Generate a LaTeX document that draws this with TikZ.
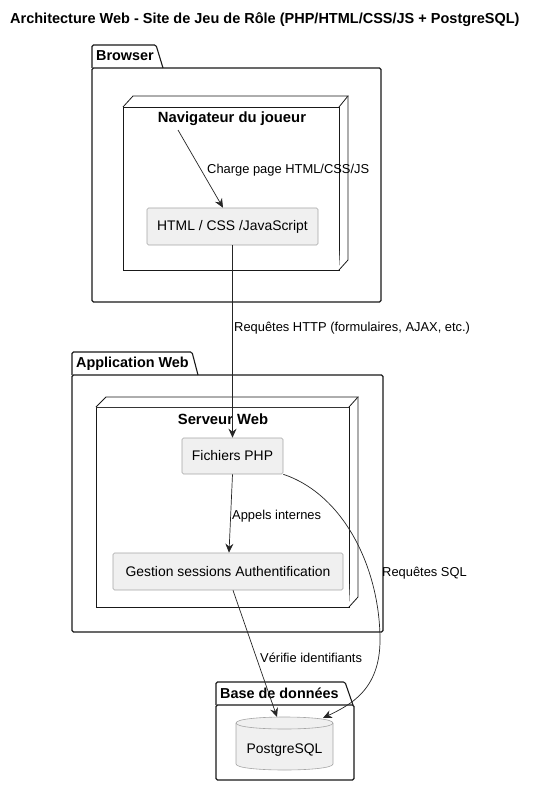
\documentclass[tikz,border=0pt]{standalone}
\usepackage{fontspec}
\setmainfont{Liberation Sans}
\usetikzlibrary{arrows.meta,calc}
\begin{document}
\begin{tikzpicture}[x=1pt,y=-1pt,
 pkg/.style={draw=black!90,line width=1.1pt,rounded corners=1.5pt},
 nd/.style={draw=black!90,line width=0.8pt,fill=white},
 comp/.style={draw=gray!70,fill=black!6,line width=0.6pt,rounded corners=1.5pt,inner sep=0pt,font=\fontsize{13.9}{15}\selectfont},
 lbl/.style={font=\fontsize{12.9}{14}\selectfont,inner sep=0pt,anchor=west},
 pkglbl/.style={font=\bfseries\fontsize{14.4}{15}\selectfont,inner sep=0pt,anchor=west},
 ndlbl/.style={font=\bfseries\fontsize{14.8}{16}\selectfont,inner sep=0pt},
 arr/.style={-{Stealth[length=9pt,width=8pt,inset=3pt]},line width=0.7pt,draw=black!85},
]
\useasboundingbox (0,0) rectangle (536,786);
\node[font=\bfseries\fontsize{14.5}{16}\selectfont,anchor=west,inner sep=0pt] (title) at (10,20) {Architecture Web - Site de Jeu de Rôle (PHP/HTML/CSS/JS + PostgreSQL)};

% Browser package
\draw[pkg] (92,68) -- (92,45) -- (156,45) -- (163,68);
\draw[pkg] (92,68) rectangle (381,302);
\node[pkglbl] (pbrowser) at (96,56) {Browser};
% Navigateur node
\draw[nd] (123,107) rectangle (339,270);
\draw[nd] (123,107) -- (133,96) -- (348,96) -- (339,107);
\draw[nd] (339,270) -- (348,260) -- (348,96);
\node[ndlbl] (nav) at (232,119) {Navigateur du joueur};
\node[comp,minimum width=171pt,minimum height=37pt] (html) at (232.5,226.5) {HTML / CSS /JavaScript};

% Application Web package
\draw[pkg] (72,375) -- (72,352) -- (192,352) -- (198,375);
\draw[pkg] (72,375) rectangle (383,632);
\node[pkglbl] (papp) at (76,364) {Application Web};
\draw[nd] (96,407) rectangle (349,607);
\draw[nd] (96,407) -- (106,397) -- (358,397) -- (349,407);
\draw[nd] (349,607) -- (358,597) -- (358,397);
\node[ndlbl] (srv) at (223,419) {Serveur Web};
\node[comp,minimum width=101pt,minimum height=36pt] (php) at (232.5,456) {Fichiers PHP};
\node[comp,minimum width=230pt,minimum height=37pt] (gest) at (228,571.5) {Gestion sessions Authentification};

% Base de donnees package
\draw[pkg] (216,705) -- (216,682) -- (345,682) -- (353,705);
\draw[pkg] (216,705) rectangle (354,780);
\node[pkglbl] (pdb) at (220,693) {Base de données};
\draw[draw=gray!70,fill=black!6,line width=0.6pt] (236,723) -- (236,764) .. controls (236,772) and (333,772) .. (333,764) -- (333,723) .. controls (333,715) and (236,715) .. (236,723) -- cycle;
\draw[draw=gray!70,line width=0.6pt] (236,723) .. controls (236,731) and (333,731) .. (333,723);
\node[font=\fontsize{13.9}{15}\selectfont,inner sep=0pt] (db) at (284.5,750) {PostgreSQL};
\coordinate (dbin1) at (277,717);
\coordinate (dbin2) at (323,718);

% Edges
\coordinate (navout) at (178,130);
\draw[arr] (navout) -- ([xshift=-9.5pt]html.north);
\node[lbl] (l1) at (207,170) {Charge page HTML/CSS/JS};
\draw[arr] (html.south) -- (php.north);
\node[lbl] (l2) at (234,328) {Requêtes HTTP (formulaires, AJAX, etc.)};
\draw[arr] (php.south) -- ([xshift=1pt]gest.north);
\node[lbl] (l3) at (232,516) {Appels internes};
\draw[arr] ([xshift=5pt]gest.south) -- (dbin1);
\node[lbl] (l4) at (260,658) {Vérifie identifiants};
\draw[arr] (php.south east) .. controls (345,495) and (380,570) .. (380,640) .. controls (380,690) and (350,705) .. (dbin2);
\node[lbl] (l5) at (382,573) {Requêtes SQL};
\end{tikzpicture}
\end{document}
